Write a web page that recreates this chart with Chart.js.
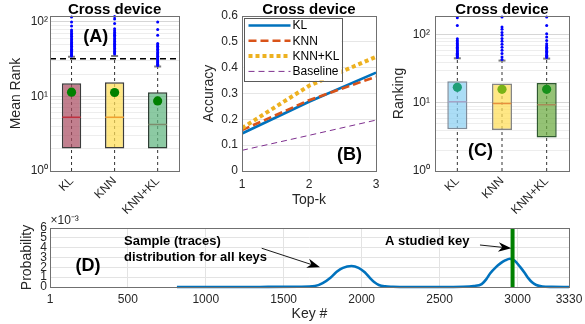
<!DOCTYPE html>
<html><head><meta charset="utf-8">
<script src="https://cdn.jsdelivr.net/npm/chart.js@4.4.0/dist/chart.umd.min.js"></script>
<style>
html,body{margin:0;padding:0;background:#fff;width:585px;height:324px;overflow:hidden}
body{position:relative}
canvas{position:absolute}
</style></head><body>
<canvas id="cA" width="190" height="228" style="left:0;top:0"></canvas>
<canvas id="cB" width="195" height="215" style="left:190px;top:0"></canvas>
<canvas id="cC" width="195" height="228" style="left:385px;top:0"></canvas>
<canvas id="cD" width="585" height="144" style="left:0;top:180px"></canvas>
<script>
// ---------------- DATA ----------------
const methods = ['KL', 'KNN', 'KNN+KL'];

// Panel A : Mean Rank (log)
const a_q1 = [2, 2, 2];
const a_q3 = [15.0, 15.5, 11.4];
const a_median = [5.25, 5.25, 4.2];
const a_mean = [11.4, 11.3, 8.7];
const a_whiskerLow = [1, 1, 1];
const a_whiskerHigh = [34, 35, 25.3];
const a_threshold = [32];
const a_outKL = [35, 36, 37, 38.5, 40, 41.5, 43, 45, 47, 49, 51, 53, 55.5, 58, 61, 64, 67, 70, 74, 78, 88, 100, 116];
const a_outKNN = [37, 38.5, 40, 42, 44, 46, 48, 50, 52, 54.5, 57, 60, 63, 66, 69, 72, 76, 81, 95, 109, 118];
const a_outKNNKL = [26, 27, 28, 29, 30, 31, 32, 33, 34.5, 36, 37.5, 39, 41, 43, 45, 47, 49, 51.5, 66, 79, 100];

// Panel C : Ranking (log)
const c_q1 = [4.1, 4, 3.1];
const c_q3 = [20.9, 19.3, 19.7];
const c_median = [10.4, 9.8, 9.4];
const c_mean = [17.0, 15.9, 15.9];
const c_whiskerLow = [1, 1, 1];
const c_whiskerHigh = [45.4, 42, 44.9];
const c_outKL = [46.5, 48, 50, 52, 54, 56, 58, 60.5, 63, 66, 69, 72, 75, 79, 83, 88, 138, 179];
const c_outKNN = [43.5, 47.5, 53.5, 59.5, 66, 73, 80.5, 89, 99, 109, 121, 131, 183];
const c_outKNNKL = [46.5, 48.5, 50.5, 52.5, 55, 57.5, 60, 63, 66, 69.5, 74.5, 83, 93, 104, 138, 183];

// log axis ticks
const logGridTicks = [1,2,3,4,5,6,7,8,9,10,20,30,40,50,60,70,80,90,100];
const logMajorValues = [1, 10, 100];
const logMajorLabels = ['10\u2070', '10\u00B9', '10\u00B2'];

// Panel B : Accuracy vs Top-k
const topK = [1, 2, 3];
const accKL = [0.145, 0.268, 0.381];
const accKNN = [0.158, 0.274, 0.365];
const accKNNKL = [0.166, 0.33, 0.442];
const accBaseline = [0.08, 0.138, 0.197];
const xTicksB = [1, 2, 3];
const yTicksB = [0, 0.1, 0.2, 0.3, 0.4, 0.5, 0.6];
const yTickLabelsB = ['0', '0.1', '0.2', '0.3', '0.4', '0.5', '0.6'];

// Panel D : sample distribution over keys
const keysD = [815, 1000, 1200, 1400, 1600, 1700, 1750, 1800, 1840, 1880, 1935, 1980, 2020, 2055, 2080, 2110, 2150, 2200, 2300, 2500, 2650, 2720, 2770, 2800, 2825, 2860, 2890, 2920, 2950, 2980, 3015, 3045, 3070, 3095, 3120, 3160, 3220, 3330];
const probD = [0, 0, 0, 0.00001, 0.00003, 0.0001, 0.0004, 0.00095, 0.00155, 0.00195, 0.00213, 0.00195, 0.0015, 0.00088, 0.0005, 0.0002, 0.00006, 0.00002, 0, 0, 0.00002, 0.0001, 0.0003, 0.0008, 0.0014, 0.002, 0.0024, 0.0027, 0.00288, 0.0027, 0.00207, 0.00145, 0.00088, 0.00045, 0.0002, 0.00005, 0.00001, 0];
const studiedKey = [2968];
const xTicksD = [1, 500, 1000, 1500, 2000, 2500, 3000, 3330];
const xTickLabelsD = ['1', '500', '1000', '1500', '2000', '2500', '3000', '3330'];
const yTicksD = [0, 0.001, 0.002, 0.003, 0.004, 0.005, 0.006];
const yTickLabelsD = ['0', '1', '2', '3', '4', '5', '6'];

// ---------------- STYLE ----------------
const FONT = '"Liberation Sans", Arial, Helvetica, sans-serif';
Chart.defaults.font.family = FONT;
Chart.defaults.font.size = 12;
Chart.defaults.color = '#262626';
Chart.defaults.animation = false;
Chart.defaults.responsive = false;
Chart.defaults.plugins.legend.display = false;
Chart.defaults.plugins.tooltip.enabled = false;
const axisColor = '#707070';

function drawFrame(chart, title) {
  const ctx = chart.ctx, a = chart.chartArea;
  ctx.save();
  ctx.strokeStyle = axisColor; ctx.lineWidth = 1; ctx.setLineDash([]);
  ctx.strokeRect(Math.round(a.left) + 0.5, Math.round(a.top) + 0.5, Math.round(a.right - a.left), Math.round(a.bottom - a.top));
  if (title) {
    ctx.fillStyle = '#000'; ctx.font = 'bold 15px ' + FONT;
    ctx.textAlign = 'center'; ctx.textBaseline = 'alphabetic';
    ctx.fillText(title, (a.left + a.right) / 2, 13.5);
  }
  ctx.restore();
}
function boldLabel(ctx, text, x, y, size) {
  ctx.save(); ctx.fillStyle = '#000'; ctx.font = 'bold ' + size + 'px ' + FONT;
  ctx.textAlign = 'center'; ctx.textBaseline = 'middle'; ctx.fillText(text, x, y); ctx.restore();
}

function boxChart(id, o) {
  const whisk = [];
  methods.forEach((m, i) => { whisk.push({x: m, y: o.lo[i]}, {x: m, y: o.hi[i]}, {x: m, y: null}); });
  const outl = [];
  o.outliers.forEach((arr, i) => arr.forEach(v => outl.push({x: methods[i], y: v})));
  return new Chart(document.getElementById(id), {
    type: 'bar',
    data: {labels: methods, datasets: [
      {type: 'line', data: whisk, borderColor: '#333', borderWidth: 1, borderDash: [3, 3], pointRadius: 0, spanGaps: false, order: 6},
      {type: 'bar', data: methods.map((m, i) => [o.q1[i], o.q3[i]]), backgroundColor: o.fill, borderColor: o.edge, borderWidth: 1.5, borderSkipped: false, barPercentage: 0.45, categoryPercentage: 1, order: 5},
      {type: 'line', data: methods.map((m, i) => ({x: m, y: o.med[i]})), showLine: false, pointStyle: 'line', pointRadius: 9.3, pointBorderColor: o.medColor, pointBorderWidth: 1.5, order: 4},
      {type: 'line', data: methods.map((m, i) => ({x: m, y: o.hi[i]})), showLine: false, pointStyle: 'line', pointRadius: 3.5, pointBorderColor: '#7f7f7f', pointBorderWidth: 2, order: 4},
      {type: 'line', data: outl, showLine: false, pointRadius: 1.5, pointBackgroundColor: '#0000ff', pointBorderWidth: 0, clip: false, order: 2},
      {type: 'line', data: methods.map((m, i) => ({x: m, y: o.mean[i]})), showLine: false, pointRadius: 4.6, pointBackgroundColor: o.meanColor, pointBorderWidth: 0, order: 1}
    ]},
    options: {
      layout: {padding: {top: 16, right: o.padRight, left: 0, bottom: 0}},
      scales: {
        x: {type: 'category', grid: {display: false, drawTicks: false}, border: {display: false},
            ticks: {minRotation: 45, maxRotation: 45, padding: 3, color: '#262626'},
            afterFit: s => { s.height = o.xh; s.paddingLeft = 0; s.paddingRight = 0; }},
        y: {type: 'logarithmic', min: 1, max: o.max, border: {display: false},
            grid: {drawTicks: false, color: c => (c.tick && logMajorValues.includes(c.tick.value)) ? '#d6d6d6' : '#ededed'},
            afterBuildTicks: s => { s.ticks = logGridTicks.map(v => ({value: v})); },
            ticks: {autoSkip: false, padding: o.tickPad, color: '#262626',
                    callback: v => { const k = logMajorValues.indexOf(v); return k >= 0 ? logMajorLabels[k] : ''; }},
            title: {display: true, text: o.yTitle, font: {size: 14}, color: '#262626', padding: {top: o.titlePad, bottom: 0}},
            afterFit: s => { s.width = 50; s.paddingTop = 0; s.paddingBottom = 0; }}
      }
    },
    plugins: [{id: 'decor', afterDraw(chart) {
      const a = chart.chartArea, ctx = chart.ctx;
      if (o.threshold) {
        const y = chart.scales.y.getPixelForValue(o.threshold[0]);
        ctx.save(); ctx.strokeStyle = '#000'; ctx.lineWidth = 1.5; ctx.setLineDash([6, 4]);
        ctx.beginPath(); ctx.moveTo(a.left, y); ctx.lineTo(a.right, y); ctx.stroke(); ctx.restore();
      }
      drawFrame(chart, 'Cross device');
      boldLabel(ctx, o.panel, a.left + o.panelDx, a.top + o.panelDy, 18);
    }}]
  });
}

boxChart('cA', {
  q1: a_q1, q3: a_q3, med: a_median, mean: a_mean, lo: a_whiskerLow, hi: a_whiskerHigh,
  outliers: [a_outKL, a_outKNN, a_outKNNKL], threshold: a_threshold,
  fill: ['rgba(171,78,99,0.72)', 'rgba(255,222,86,0.72)', 'rgba(96,182,128,0.72)'],
  edge: ['#3c3c3c', '#3c3c3c', '#2e3e34'],
  medColor: ['#c0303f', '#f0a030', '#7d8c6c'],
  meanColor: ['#008000', '#008000', '#008000'],
  max: 120, padRight: 7, xh: 57, tickPad: 2, yTitle: 'Mean Rank', titlePad: 7.6,
  panel: '(A)', panelDx: 45.7, panelDy: 20.7
});
boxChart('cC', {
  q1: c_q1, q3: c_q3, med: c_median, mean: c_mean, lo: c_whiskerLow, hi: c_whiskerHigh,
  outliers: [c_outKL, c_outKNN, c_outKNNKL], threshold: null,
  fill: ['rgba(139,208,242,0.72)', 'rgba(255,222,86,0.72)', 'rgba(107,171,64,0.72)'],
  edge: ['#7f8c9a', '#858585', '#2f5a2f'],
  medColor: ['#a4a4c8', '#e8903c', '#a88a58'],
  meanColor: ['#1e9e78', '#7ab317', '#16901a'],
  max: 190, padRight: 11, xh: 57, tickPad: 5, yTitle: 'Ranking', titlePad: 5.6,
  panel: '(C)', panelDx: 45.5, panelDy: 135
});

// Panel B
const legendPlugin = {id: 'legendBox', afterDatasetsDraw(chart) {
  const ctx = chart.ctx, a = chart.chartArea;
  const bx = a.left + 1.5, by = a.top + 1.5, bw = 98, bh = 63;
  ctx.save();
  ctx.fillStyle = '#fff'; ctx.fillRect(bx, by, bw, bh);
  ctx.strokeStyle = '#5a5a5a'; ctx.lineWidth = 1; ctx.setLineDash([]);
  ctx.strokeRect(Math.round(bx) + 0.5, Math.round(by) + 0.5, bw, bh);
  chart.data.datasets.forEach((ds, i) => {
    const y = by + 8 + i * 15.3;
    ctx.save();
    ctx.strokeStyle = ds.borderColor; ctx.lineWidth = ds.borderWidth; ctx.setLineDash(ds.borderDash || []);
    ctx.beginPath(); ctx.moveTo(bx + 5, y); ctx.lineTo(bx + 47, y); ctx.stroke();
    ctx.restore();
    ctx.fillStyle = '#000'; ctx.font = '12px ' + FONT; ctx.textAlign = 'left'; ctx.textBaseline = 'middle';
    ctx.fillText(ds.label, bx + 49, y + 0.5);
  });
  ctx.restore();
}, afterDraw(chart) {
  const a = chart.chartArea;
  drawFrame(chart, 'Cross device');
  boldLabel(chart.ctx, '(B)', a.left + 107.5, a.top + 139, 18);
}};

const lineB = (arr) => topK.map((k, i) => ({x: k, y: arr[i]}));
new Chart(document.getElementById('cB'), {
  type: 'line',
  data: {datasets: [
    {label: 'KL', data: lineB(accKL), borderColor: '#0072BD', borderWidth: 2.6, pointRadius: 0, order: 4},
    {label: 'KNN', data: lineB(accKNN), borderColor: '#D95319', borderWidth: 2.6, borderDash: [8, 4], pointRadius: 0, order: 3},
    {label: 'KNN+KL', data: lineB(accKNNKL), borderColor: '#EDB120', borderWidth: 4, borderDash: [4, 3], pointRadius: 0, order: 2},
    {label: 'Baseline', data: lineB(accBaseline), borderColor: '#7E2F8E', borderWidth: 1, borderDash: [6, 4], pointRadius: 0, order: 1}
  ]},
  options: {
    layout: {padding: {top: 16, right: 9, left: 0, bottom: 0}},
    scales: {
      x: {type: 'linear', min: 1, max: 3, border: {display: false},
          grid: {drawTicks: false, color: '#e6e6e6'},
          afterBuildTicks: s => { s.ticks = xTicksB.map(v => ({value: v})); },
          ticks: {padding: 6, color: '#262626', callback: v => String(v)},
          title: {display: true, text: 'Top-k', font: {size: 14}, color: '#262626', padding: {top: 0, bottom: 6.6}},
          afterFit: s => { s.height = 44; s.paddingLeft = 0; s.paddingRight = 0; }},
      y: {type: 'linear', min: 0, max: 0.6, border: {display: false},
          grid: {drawTicks: false, color: '#e6e6e6'},
          afterBuildTicks: s => { s.ticks = yTicksB.map(v => ({value: v})); },
          ticks: {padding: 4, color: '#262626', callback: (v, i) => yTickLabelsB[i]},
          title: {display: true, text: 'Accuracy', font: {size: 14}, color: '#262626', padding: {top: 10.6, bottom: 0}},
          afterFit: s => { s.width = 52; s.paddingTop = 0; s.paddingBottom = 0; }}
    }
  },
  plugins: [legendPlugin]
});

// Panel D
function arrow(ctx, x1, y1, x2, y2) {
  const ang = Math.atan2(y2 - y1, x2 - x1), L = 13, W = 4.8;
  ctx.save();
  ctx.strokeStyle = '#000'; ctx.fillStyle = '#000'; ctx.lineWidth = 0.9;
  ctx.beginPath(); ctx.moveTo(x1, y1); ctx.lineTo(x2 - Math.cos(ang) * 8, y2 - Math.sin(ang) * 8); ctx.stroke();
  ctx.translate(x2, y2); ctx.rotate(ang);
  ctx.beginPath(); ctx.moveTo(0, 0); ctx.lineTo(-L, -W); ctx.lineTo(-L * 0.7, 0); ctx.lineTo(-L, W); ctx.closePath(); ctx.fill();
  ctx.restore();
}
new Chart(document.getElementById('cD'), {
  type: 'line',
  data: {datasets: [
    {data: keysD.map((k, i) => ({x: k, y: probD[i]})), borderColor: '#0072BD', borderWidth: 2.6, pointRadius: 0, cubicInterpolationMode: 'monotone', clip: false, order: 2},
    {data: [{x: studiedKey[0], y: yTicksD[0]}, {x: studiedKey[0], y: yTicksD[yTicksD.length - 1]}], borderColor: '#008000', borderWidth: 4, pointRadius: 0, order: 1}
  ]},
  options: {
    layout: {padding: {top: 48, right: 16, left: 0, bottom: 0}},
    scales: {
      x: {type: 'linear', min: 1, max: 3330, border: {display: false},
          grid: {drawTicks: false, color: '#e3e3e3'},
          afterBuildTicks: s => { s.ticks = xTicksD.map(v => ({value: v})); },
          ticks: {autoSkip: false, maxRotation: 0, padding: 5, color: '#262626', callback: (v, i) => xTickLabelsD[i]},
          title: {display: true, text: 'Key #', font: {size: 14}, color: '#262626', padding: {top: 0, bottom: 1.6}},
          afterFit: s => { s.height = 37; s.paddingLeft = 0; s.paddingRight = 0; }},
      y: {type: 'linear', min: 0, max: 0.006, border: {display: false},
          grid: {drawTicks: false, color: '#e3e3e3'},
          afterBuildTicks: s => { s.ticks = yTicksD.map(v => ({value: v})); },
          ticks: {autoSkip: false, padding: 3, color: '#262626', callback: (v, i) => yTickLabelsD[i]},
          title: {display: true, text: 'Probability', font: {size: 14}, color: '#262626', padding: {top: 19.1, bottom: 0}},
          afterFit: s => { s.width = 50; s.paddingTop = 0; s.paddingBottom = 0; }}
    }
  },
  plugins: [{id: 'annD', afterDraw(chart) {
    const ctx = chart.ctx, a = chart.chartArea, X = chart.scales.x, Y = chart.scales.y;
    drawFrame(chart, null);
    ctx.save();
    ctx.fillStyle = '#262626'; ctx.font = '12px ' + FONT; ctx.textAlign = 'left'; ctx.textBaseline = 'middle';
    ctx.fillText('\u00D710\u207B\u00B3', a.left + 0.5, a.top - 7);
    ctx.fillStyle = '#000'; ctx.font = 'bold 13px ' + FONT;
    ctx.fillText('Sample (traces)', X.getPixelForValue(476), Y.getPixelForValue(0.00461));
    ctx.fillText('distribution for all keys', X.getPixelForValue(476), Y.getPixelForValue(0.00302));
    ctx.fillText('A studied key', X.getPixelForValue(2150), Y.getPixelForValue(0.00461));
    ctx.restore();
    boldLabel(ctx, '(D)', X.getPixelForValue(245), Y.getPixelForValue(0.00214), 18);
    arrow(ctx, X.getPixelForValue(1359), Y.getPixelForValue(0.00394), X.getPixelForValue(1733), Y.getPixelForValue(0.0020));
    arrow(ctx, X.getPixelForValue(2759), Y.getPixelForValue(0.00427), X.getPixelForValue(2960), Y.getPixelForValue(0.00394));
  }}]
});
</script>
</body></html>
